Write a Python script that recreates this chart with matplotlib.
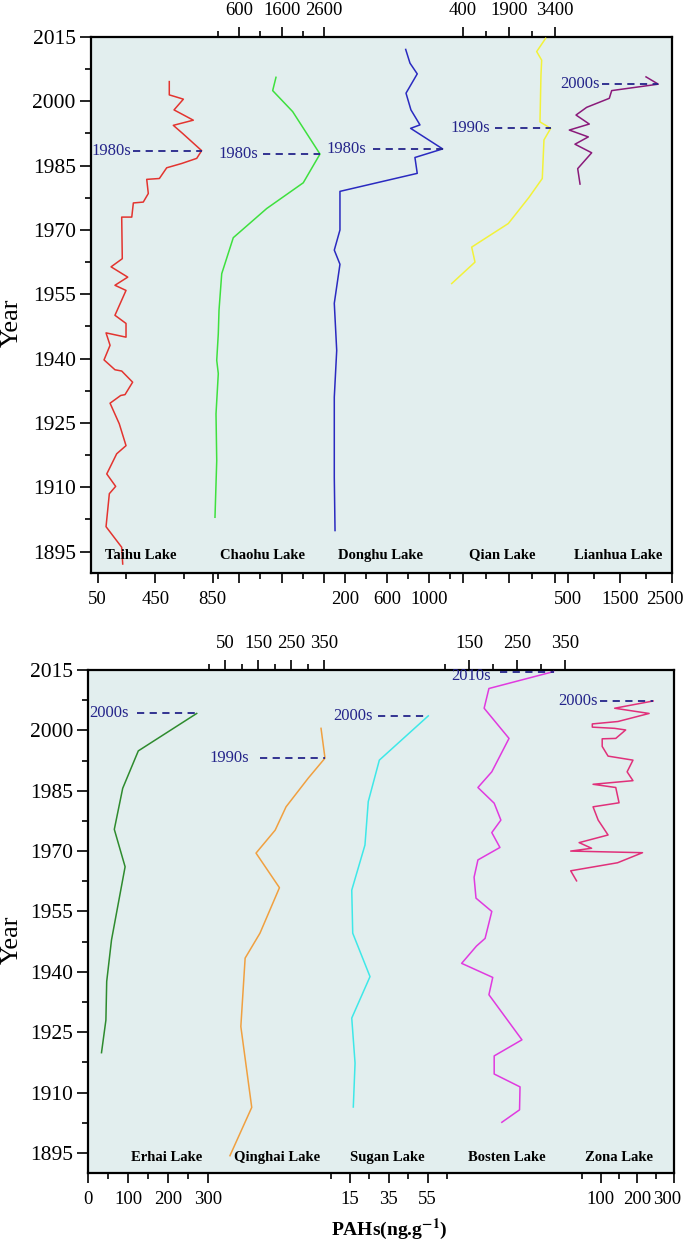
import numpy as np
import matplotlib
matplotlib.use("Agg")
import matplotlib.pyplot as plt

plt.rcParams['font.family'] = ['Liberation Serif', 'DejaVu Serif']
plt.rcParams['mathtext.fontset'] = 'stix'

# --- data (year, total PAHs ng/g) ---
taihu_year = [2004.6, 2001.5, 2001.1, 2000.5, 1998.0, 1995.6, 1994.4, 1992.5, 1988.5, 1986.7,
              1985.5, 1984.5, 1982.0, 1981.8, 1978.5, 1976.5, 1976.3, 1973.0, 1973.0, 1963.3,
              1961.4, 1959.0, 1957.1, 1955.9, 1950.1, 1948.2, 1945.0, 1946.0, 1943.1, 1939.7,
              1937.4, 1937.1, 1934.5, 1931.6, 1931.4, 1929.6, 1924.8, 1919.7, 1917.8, 1913.1,
              1910.2, 1908.5, 1900.8, 1896.0, 1892.1]
taihu_pahs = [548, 548, 588, 646, 581, 715, 576, 641, 773, 739,
              634, 530, 479, 391, 402, 367, 298, 287, 217, 221,
              143, 259, 170, 247, 170, 247, 247, 108, 136, 94,
              170, 217, 293, 240, 210, 136, 200, 247, 182, 113,
              175, 131, 108, 217, 224]

chaohu_year = [2005.6, 2002.5, 1997.6, 1987.7, 1981.0, 1975.0, 1968.2, 1959.8, 1951.3, 1945.8,
               1939.6, 1936.5, 1927.1, 1916.2, 1903.0]
chaohu_pahs = [1466, 1388, 1860, 2505, 2110, 1247, 458, 185, 121, 104,
               67, 104, 50, 67, 26]

donghu_year = [2012.1, 2008.9, 2006.4, 2001.9, 1998.0, 1994.5, 1993.7, 1988.9, 1986.9, 1983.2,
               1979.0, 1970.0, 1965.3, 1962.0, 1952.9, 1941.9, 1931.0, 1912.3, 1899.9]
donghu_pahs = [778, 819, 888, 781, 828, 914, 825, 1130, 866, 888,
               152, 152, 98, 152, 98, 121, 98, 98, 105]

qian_year = [2014.7, 2011.6, 2009.6, 2006.1, 1995.2, 1993.7, 1991.0, 1982.0, 1977.6, 1971.5,
             1966.0, 1962.5, 1957.5]
qian_pahs = [3106, 2812, 2975, 2952, 2920, 3269, 3050, 2995, 2561, 1887,
             693, 801, 41]

lianhua_year = [2005.7, 2004.0, 2002.5, 2000.7, 1998.6, 1996.8, 1994.7, 1993.3, 1991.7, 1990.0,
                1988.0, 1984.3, 1980.7]
lianhua_pahs = [2006, 2242, 1346, 1300, 865, 660, 915, 531, 896, 640,
                961, 692, 737]

erhai_year = [2004.2, 1994.9, 1985.6, 1975.4, 1966.1, 1947.9, 1937.6, 1928.0, 1919.9]
erhai_pahs = [271, 125, 86, 65, 92, 58, 46, 44, 33]

qinghai_year = [2000.5, 1993.1, 1988.1, 1981.0, 1975.2, 1969.5, 1960.9, 1949.6, 1943.4, 1926.4,
                1906.3, 1894.3]
qinghai_pahs = [341, 353, 302, 235, 202, 144, 215, 156, 111, 98, 131, 65]

sugan_year = [2003.6, 1992.6, 1982.3, 1971.5, 1960.3, 1949.6, 1938.8, 1928.5, 1917.3, 1906.4]
sugan_pahs = [55.3, 30.1, 24.4, 22.7, 15.9, 16.4, 25.3, 15.9, 17.6, 16.7]

bosten_year = [2014.6, 2010.4, 2005.5, 1998.0, 1989.7, 1985.8, 1981.9, 1977.7, 1974.6, 1970.9,
               1967.8, 1963.5, 1958.3, 1955.0, 1948.3, 1946.4, 1942.1, 1938.6, 1934.3, 1923.1,
               1919.1, 1914.6, 1911.4, 1905.7, 1902.6]
bosten_pahs = [326, 191, 181, 233, 197, 168, 202, 216, 197, 214,
               168, 160, 164, 197, 183, 165, 134, 199, 191, 260,
               202, 202, 256, 255, 218]

zona_year = [2007.3, 2005.5, 2004.2, 2002.2, 2001.6, 2000.8, 2000.5, 2000.1, 1998.0, 1997.9,
             1996.0, 1993.6, 1992.6, 1989.7, 1987.5, 1986.6, 1985.8, 1982.0, 1981.0, 1977.7,
             1974.0, 1972.1, 1970.7, 1970.0, 1969.6, 1967.1, 1965.1, 1962.6]
zona_pahs = [243, 138, 232, 147, 77, 77, 138, 168, 141, 104,
             104, 120, 188, 172, 188, 79, 141, 150, 79, 93,
             120, 41, 75, 18, 214, 146, 18, 34]

peak_labels = {"Taihu": "1980s", "Chaohu": "1980s", "Donghu": "1980s", "Qian": "1990s",
               "Lianhua": "2000s", "Erhai": "2000s", "Qinghai": "1990s", "Sugan": "2000s",
               "Bosten": "2010s", "Zona": "2000s"}

year_major = np.arange(1895, 2016, 15)
year_minor = np.arange(1902.5, 2015, 15)

# --- layout (pixels of the 685x1242 canvas) ---
W, H = 685, 1242
PANELS = {"top": (91, 37, 672, 573), "bottom": (88.3, 670, 674, 1173)}
NAME_Y = {"top": 555, "bottom": 1157.7}
BG = "#e2eeee"
NAVY = "#24248a"
XLAB_SIZE = 13.5

# name, x, y, color, panel, calibration (px1, v1, px2, v2), side, major, minor,
# mirror ticks, label centre x px, dash start px, text right px, text dy (years)
LAKES = [
    ("Taihu", taihu_year, taihu_pahs, "#e3342f", "top", (97.7, 50, 212.7, 850), "bottom",
     [50, 450, 850], [250, 650], False, 141, 133, 131, 0),
    ("Chaohu", chaohu_year, chaohu_pahs, "#3ee03e", "top", (239.3, 600, 324, 2600), "top",
     [600, 1600, 2600], [100, 1100, 2100], True, 263, 263, 258, 0),
    ("Donghu", donghu_year, donghu_pahs, "#2a2ac0", "top", (345, 200, 429, 1000), "bottom",
     [200, 600, 1000], [400, 800, 1200], False, 380, 373, 366, 0),
    ("Qian", qian_year, qian_pahs, "#f2f23a", "top", (462.7, 400, 554.7, 3400), "top",
     [400, 1900, 3400], [1150, 2650], True, 502, 495, 490, 0),
    ("Lianhua", lianhua_year, lianhua_pahs, "#8a1a7a", "top", (567.7, 500, 671.7, 2500), "bottom",
     [500, 1500, 2500], [1000, 2000], False, 618, 602, 600, 0),
    ("Erhai", erhai_year, erhai_pahs, "#2e8b2e", "bottom", (88.3, 0, 208.3, 300), "bottom",
     [0, 100, 200, 300], [50, 150, 250], False, 167, 137, 129, 0),
    ("Qinghai", qinghai_year, qinghai_pahs, "#f0a040", "bottom", (225, 50, 324, 350), "top",
     [50, 150, 250, 350], [0, 100, 200, 300], False, 277, 260, 249, 0),
    ("Sugan", sugan_year, sugan_pahs, "#3ee8e8", "bottom", (350, 15, 427.7, 55), "bottom",
     [15, 35, 55], [5, 25, 45, 65], False, 387, 378, 373, 0),
    ("Bosten", bosten_year, bosten_pahs, "#e03adf", "bottom", (469.3, 150, 565, 350), "top",
     [150, 250, 350], [100, 200, 300], False, 507, 500, 491, -1.2),
    ("Zona", zona_year, zona_pahs, "#e0307a", "bottom", (601, 100, 674.3, 300), "bottom",
     [100, 200, 300], [50, 150, 250], False, 619, 600, 598, 0),
]


def rect(box):
    l, t, r, b = box
    return [l / W, 1 - b / H, (r - l) / W, (b - t) / H]


def px_to_val(px, cal):
    px1, v1, px2, v2 = cal
    return v1 + (px - px1) * (v2 - v1) / (px2 - px1)


fig = plt.figure(figsize=(W / 100, H / 100), dpi=100)

for key, box in PANELS.items():
    ax = fig.add_axes(rect(box))
    ax.set_facecolor(BG)
    ax.set_ylim(1890, 2015)
    ax.set_yticks(year_major)
    ax.set_yticks(year_minor, minor=True)
    ax.set_xticks([])
    ax.tick_params(axis='y', which='major', length=8, width=1.2, direction='out',
                   labelsize=15.5, pad=3)
    ax.tick_params(axis='y', which='minor', length=4, width=1.2, direction='out')
    for sp in ax.spines.values():
        sp.set_linewidth(1.6)
    fig.text(12 / W, 1 - ((box[1] + box[3]) / 2 + 18) / H, "Year", rotation=90,
             fontsize=19, ha='center', va='center')

for (name, yrs, vals, color, panel, cal, side, major, minor, mirror,
     lab_px, dash_px, txt_px, txt_dy) in LAKES:
    l, t, r, b = PANELS[panel]
    lax = fig.add_axes(rect(PANELS[panel]))
    lax.patch.set_visible(False)
    for sp in lax.spines.values():
        sp.set_visible(False)
    lax.yaxis.set_visible(False)
    lax.set_ylim(1890, 2015)
    lax.set_xlim(px_to_val(l, cal), px_to_val(r, cal))

    lax.plot(vals, yrs, color=color, lw=1.1)

    # peak marker: dashed line + decade label
    i = int(np.argmax(vals))
    lax.plot([px_to_val(dash_px, cal), vals[i]], [yrs[i], yrs[i]], color=NAVY,
             lw=1.3, dashes=(4, 3))
    lax.text(px_to_val(txt_px, cal), yrs[i] + txt_dy, peak_labels[name], color=NAVY,
             fontsize=12, ha='right', va='center')

    lax.text((lab_px - l) / (r - l), (b - NAME_Y[panel]) / (b - t), f"{name} Lake",
             transform=lax.transAxes, fontsize=10.5, fontweight='bold',
             ha='center', va='center')

    lax.set_xticks(major)
    lax.set_xticks(minor, minor=True)
    labels = [str(m) for m in major]
    # right-most label sits against the canvas edge: draw it nudged inwards
    edge = side == "bottom" and major[-1] >= px_to_val(r - 5, cal)
    if edge:
        labels[-1] = ""
        lax.annotate(str(major[-1]), xy=(major[-1], 0), xycoords=('data', 'axes fraction'),
                     xytext=(-5, -13), textcoords='offset points', ha='center', va='top',
                     fontsize=XLAB_SIZE, annotation_clip=False)
    lax.set_xticklabels(labels)
    if side == "top":
        lax.xaxis.set_ticks_position('both' if mirror else 'top')
        lax.tick_params(axis='x', labeltop=True, labelbottom=False)
    else:
        lax.xaxis.set_ticks_position('bottom')
        lax.tick_params(axis='x', labeltop=False, labelbottom=True)
    lax.tick_params(axis='x', which='major', length=7, width=1.2, direction='out',
                    labelsize=XLAB_SIZE, pad=6)
    lax.tick_params(axis='x', which='minor', length=4, width=1.2, direction='out')

fig.text(389 / W, 1 - 1229 / H, r"PAHs(ng.g$^{\mathbf{-1}}$)", fontsize=14,
         fontweight='bold', ha='center', va='center')

fig.savefig("out.png", dpi=100, facecolor='white')
